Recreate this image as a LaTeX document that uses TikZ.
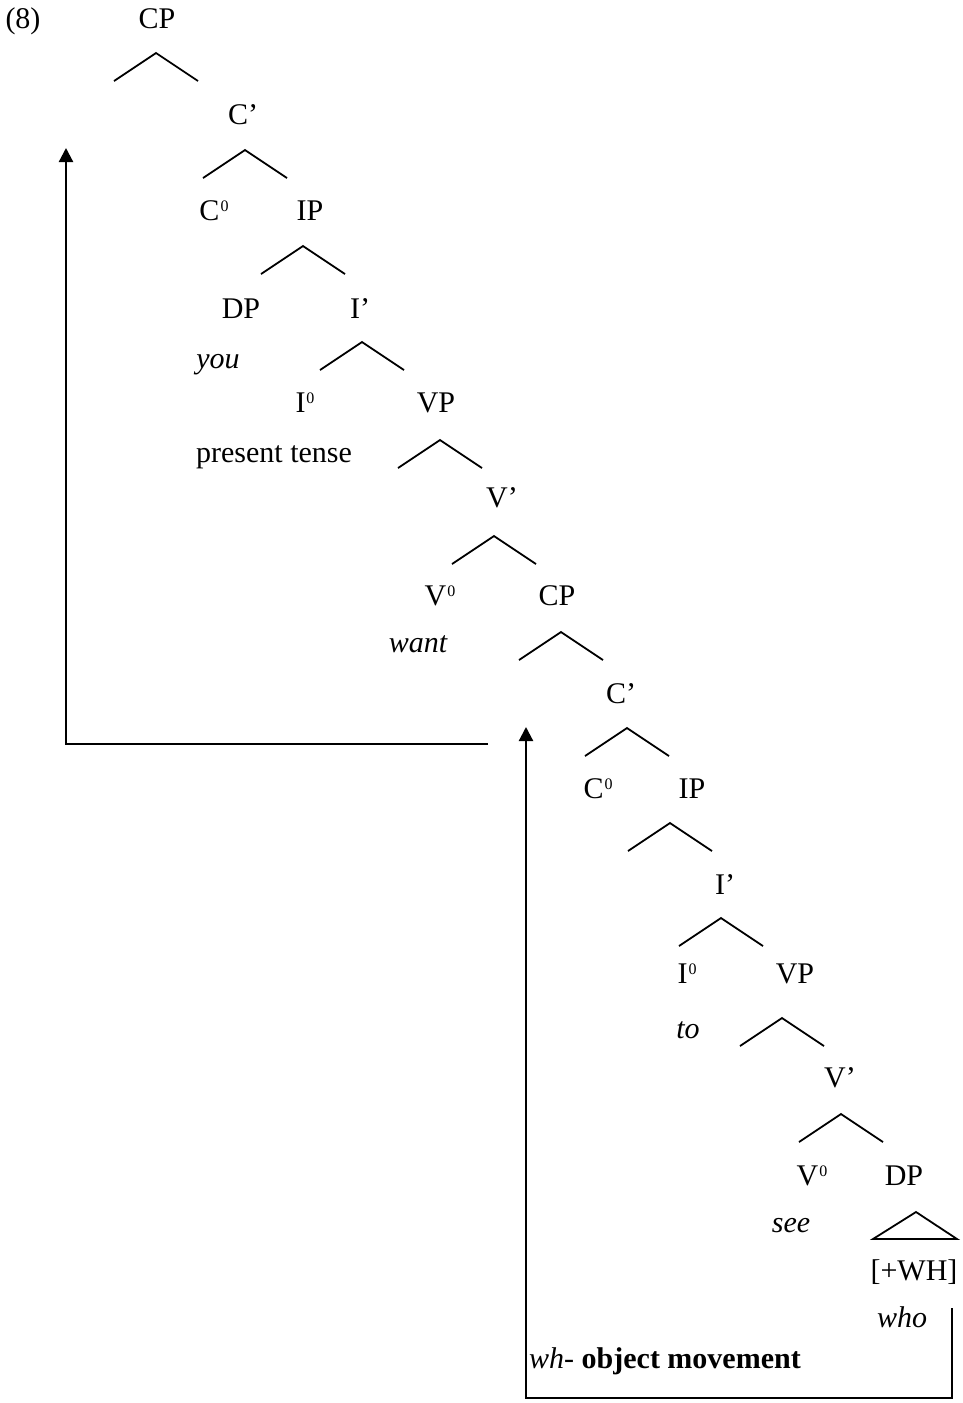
\documentclass[tikz,border=0pt]{standalone}
\usepackage{fontspec}
\setmainfont{Liberation Serif}
\usetikzlibrary{arrows.meta}
% small raised zero for head categories (C0, I0, V0)
\newcommand\headzero{\hspace{1pt}\raisebox{9pt}{\fontsize{16}{16}\selectfont 0}}
\begin{document}
\begin{tikzpicture}[x=1pt,y=-1pt,
  lbl/.style={inner sep=0pt,anchor=base,font=\fontsize{30}{36}\selectfont},
  lexical/.style={lbl,font=\fontsize{30}{36}\selectfont\itshape},
  fork/.pic={\draw[line width=1.8pt] (-42,28) -- (0,0) -- (42,28);},
  move/.style={line width=2.2pt,-{Triangle[length=14pt,width=14pt]}}]
\useasboundingbox (0,0) rectangle (962,1403);

% example number
\node[lbl] (ex) at (23,28) {(8)};

% matrix clause
\node[lbl] (cp1) at (157,28) {CP};
\pic at (156,53) {fork};
\node[lbl] (cb1) at (243,124) {C’};
\pic at (245,150) {fork};
\node[lbl] (c01) at (214,220) {C\headzero};
\node[lbl] (ip1) at (310,220) {IP};
\pic at (303,246) {fork};
\node[lbl] (dp1) at (241,318) {DP};
\node[lexical] (you) at (218,368) {you};
\node[lbl] (ib1) at (360,318) {I’};
\pic at (362,342) {fork};
\node[lbl] (i01) at (305,412) {I\headzero};
\node[lbl] (tense) at (274,462) {present tense};
\node[lbl] (vp1) at (436,412) {VP};
\pic at (440,440) {fork};
\node[lbl] (vb1) at (502,507) {V’};
\pic at (494,536) {fork};
\node[lbl] (v01) at (440,605) {V\headzero};
\node[lexical] (want) at (418,652) {want};

% embedded clause
\node[lbl] (cp2) at (557,605) {CP};
\pic at (561,632) {fork};
\node[lbl] (cb2) at (621,703) {C’};
\pic at (627,728) {fork};
\node[lbl] (c02) at (598,798) {C\headzero};
\node[lbl] (ip2) at (692,798) {IP};
\pic at (670,823) {fork};
\node[lbl] (ib2) at (725,894) {I’};
\pic at (721,918) {fork};
\node[lbl] (i02) at (687,983) {I\headzero};
\node[lexical] (to) at (688,1038) {to};
\node[lbl] (vp2) at (795,983) {VP};
\pic at (782,1018) {fork};
\node[lbl] (vb2) at (840,1087) {V’};
\pic at (841,1114) {fork};
\node[lbl] (v02) at (812,1185) {V\headzero};
\node[lexical] (see) at (791,1232) {see};
\node[lbl] (dp2) at (904,1185) {DP};
\draw[line width=1.8pt] (873,1239) -- (916,1212) -- (957,1239) -- cycle;
\node[lbl] (wh) at (914,1280) {[+WH]};
\node[lexical] (who) at (902,1327) {who};

% movement paths
\coordinate (m1start) at (488,744);
\coordinate (m1corner) at (66,744);
\coordinate (m1end) at (66,148);
\draw[move] (m1start) -- (m1corner) -- (m1end);

\coordinate (m2start) at (952,1308);
\coordinate (m2right) at (952,1398);
\coordinate (m2left) at (526,1398);
\coordinate (m2end) at (526,727);
\draw[move] (m2start) -- (m2right) -- (m2left) -- (m2end);

\node[lbl,anchor=base west] (movelbl) at (529,1368) {\textit{wh-} \textbf{object movement}};
\end{tikzpicture}
\end{document}
